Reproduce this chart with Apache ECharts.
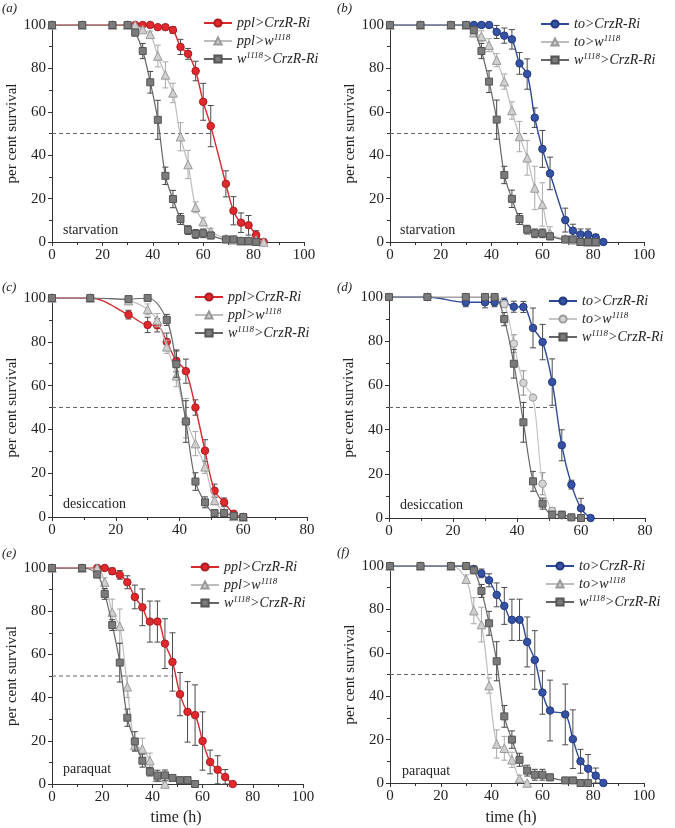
<!DOCTYPE html>
<html>
<head>
<meta charset="utf-8">
<script src="https://cdn.jsdelivr.net/npm/echarts@6/dist/echarts.min.js"></script>
<style>
html,body{margin:0;padding:0;background:#fff;}
#chart{width:675px;height:828px;}
</style>
</head>
<body>
<div id="chart"></div>
<script>
// ---------- DATA: [time (h), per cent survival, error] ----------
const aPpl   = [[0,100,0],[12,100,0],[24,100,0],[30,100,0],[33,100,0],[36,100,0],[39,100,0.5],[42,99,1],[45,99,1],[48,97.7,1.5],[51,89.9,3.5],[54,86.7,2.5],[57,78.8,4.5],[60,64.6,8.5],[63,53.4,9.5],[69,26.8,6],[72,14.4,6.5],[75,8.9,4.5],[78,7.7,4.5],[81,3.2,2],[84,0,0]];
const aPplW  = [[0,100,0],[12,100,0],[24,100,0],[30,100,0],[33,100,0.5],[36,97.9,1],[39,95.7,1.5],[42,85.7,5],[45,77,6],[48,68.7,4.5],[51,48.5,6.5],[54,35.7,6.5],[57,16,2.5],[60,9.4,2],[63,4.8,1.5],[69,1.5,1],[72,1,0.5],[75,0.5,0.5],[78,0.5,0.5],[81,1,0.5],[84,0,0]];
const aW     = [[0,100,0],[12,100,0],[24,100,0],[30,100,0],[33,96.5,1.5],[36,88,3.5],[39,73.6,5],[42,56.3,9],[45,30.5,4],[48,19.8,4],[51,10.6,2.5],[54,5.5,2],[57,3.7,2],[60,4,2],[63,3,1.5],[69,1.2,1],[72,1.2,1],[75,0.5,0.5],[78,0.5,0.5],[81,0,0]];

const bTo    = [[0,100,0],[12,100,0],[24,100,0],[30,100,0],[33,100,0],[36,100,0],[39,100,0],[42,96.8,3],[45,95.1,3.5],[48,93.4,4.5],[51,82.3,5],[54,77.4,7],[57,57.3,4.5],[60,42.9,8.5],[63,31.6,7.5],[69,10.1,5.5],[72,5.2,3],[75,3.5,2.5],[78,3.5,2.5],[81,2.1,1.5],[84,0,0]];
const bToW   = [[0,100,0],[12,100,0],[24,100,0],[30,100,0],[33,96.5,2],[36,94.8,2.5],[39,90.7,3],[42,83.8,3],[45,73.9,3.5],[48,60.6,4],[51,48.6,7],[54,38.8,8],[57,24.9,10],[60,17.3,10],[63,4,3],[69,1.5,1],[72,1,1],[75,0.5,0.5],[78,0,0],[81,0,0]];
const bW     = [[0,100,0],[12,100,0],[24,100,0],[30,100,0],[33,97.6,1.5],[36,88,3.5],[39,73.9,5],[42,56.4,9],[45,30.9,4],[48,19.9,4],[51,10.6,2.5],[54,5.7,2],[57,4,2],[60,4,2],[63,2.6,1.5],[69,1.2,1],[72,1.2,1],[75,0,0],[78,0,0],[81,0,0]];

const cPpl   = [[0,100,0],[12,100,0],[24,92.4,2],[30,87.7,3.5],[33,87.5,3],[36,80,4],[39,71.3,5],[42,66.6,5.5],[45,50,3.5],[48,30.3,5],[51,12,3],[54,6.7,2],[57,1.5,1],[60,0,0]];
const cPplW  = [[0,100,0],[12,100,0],[24,98.8,1],[30,94.8,2.5],[33,89.9,3],[36,77.7,3],[39,64.5,5],[42,45.1,9],[45,33.5,5.5],[48,22.9,3],[51,7.6,2],[54,2.3,1],[57,0.3,0.5],[60,0,0]];
const cW     = [[0,100,0],[12,100,0],[24,99.5,0.5],[30,100,0],[36,90,2.5],[39,69.8,6],[42,43.6,9.5],[45,16.2,4],[48,6.7,2.5],[51,1.8,1.5],[54,1.8,1.5],[57,0.5,0.5],[60,0,0]];

const dTo    = [[0,100,0],[12,100,0],[24,97.6,2],[30,97.6,2.5],[33,97.6,2],[36,97.5,2],[39,95.6,2.5],[42,95.5,2.5],[45,86,9],[48,79.6,8],[51,61.5,10.5],[54,32.9,7],[57,15.1,2],[60,4.4,4.5],[63,0,0]];
const dToW   = [[0,100,0],[12,100,0],[24,100,0],[30,100,0],[33,100,0],[36,96.8,1.5],[39,78.9,4],[42,61.1,5.5],[45,54.5,0.5],[48,15.5,5],[51,3.2,1.5],[54,1.2,0.5],[57,0.3,0],[60,0,0]];
const dW     = [[0,100,0],[12,100,0],[24,100,0],[30,100,0],[33,100,0],[36,90,3],[39,69.8,6.5],[42,43.3,9],[45,16.6,4.5],[48,6.5,2.5],[51,1.5,1.5],[54,1.5,1.5],[57,0.3,0.3],[60,0,0]];

const ePpl   = [[0,100,0],[12,100,0],[18,100,0],[21,100,0.5],[24,98.5,1.5],[27,96.8,2],[30,93.4,3],[33,86.6,5.5],[36,81.8,8.5],[39,75.2,9.5],[42,75.2,9.5],[45,65,11.5],[48,56.5,13.5],[51,41.6,10],[54,33.4,14],[57,31.9,14],[60,19.9,13.5],[63,10.2,5.5],[66,6.6,6.5],[69,3.2,3.5],[72,0,0]];
const ePplW  = [[0,100,0],[12,100,0],[18,100,0],[21,93.5,2],[24,79.6,6],[27,73,8],[30,45,5],[33,18,2.5],[36,16.2,5],[39,10.8,3.5],[42,3.1,2],[45,0,0]];
const eW     = [[0,100,0],[12,100,0],[18,97,1.5],[21,88,2.5],[24,73.6,2.5],[27,56.2,9],[30,30.7,4],[33,19.7,4.5],[36,10.8,3],[39,5.7,2],[42,3.9,2.5],[45,4,2.5],[48,2.8,1],[51,1.8,0.5],[54,1.8,0.5],[57,0,0]];

const fTo    = [[0,100,0],[12,100,0],[24,100,0],[30,100,0],[33,98.6,1.5],[36,96.6,2],[39,93.4,3],[42,86.7,5.5],[45,81.6,8.5],[48,75.2,9.5],[51,75.2,9.5],[54,65,11.5],[57,56.7,13.5],[60,41.7,10],[63,33.4,14],[69,31.6,14],[72,20.2,13.5],[75,10,5.5],[78,6.6,6.5],[81,3.4,3.5],[84,0,0]];
const fToW   = [[0,100,0],[12,100,0],[24,100,0],[30,93.9,2],[33,79.4,6],[36,73,8],[39,44.9,3.5],[42,18,6.5],[45,16,5.5],[48,10.7,3.5],[51,2.1,1.5],[54,0,0]];
const fW     = [[0,100,0],[12,100,0],[24,100,0],[30,100,0],[33,98,1.5],[36,88.5,3],[39,73.6,5.5],[42,56.1,9],[45,30.7,5],[48,20,4],[51,10.7,3],[54,5.7,2.5],[57,3.8,2.5],[60,3.8,2.5],[63,2.6,1.5],[69,1.2,1],[72,1.2,1],[75,0,0],[78,0,0]];

// genotype names per panel (legend order)
const namesPpl = ['ppl>CrzR-Ri', 'ppl>w1118', 'w1118>CrzR-Ri'];
const namesTo  = ['to>CrzR-Ri', 'to>w1118', 'w1118>CrzR-Ri'];
const panelLabels = ['(a)', '(b)', '(c)', '(d)', '(e)', '(f)'];
const conditions  = ['starvation', 'starvation', 'desiccation', 'desiccation', 'paraquat', 'paraquat'];
const halfCross   = [63.5, 58.6, 44.8, 51.4, 48.3, 57.1]; // x end of the 50% dashed line
const xMaxes      = [100, 100, 80, 80, 100, 100];
const xTicks      = [0, 20, 40, 60, 80, 100];
const yTicks      = [0, 20, 40, 60, 80, 100];
const xTitle      = 'time (h)';
const yTitle      = 'per cent survival';

// ---------- STYLES ----------
const FONT = 'Liberation Serif';
const STY = {
  red:   {line:'#d6282d', fill:'#e0282d', border:'#a91d21', symbol:'circle',   size:7.5, err:'#4a4a4a', lw:1.4},
  blue:  {line:'#2e4997', fill:'#3652a4', border:'#23397e', symbol:'circle',   size:7.5, err:'#4a4a4a', lw:1.4},
  tri:   {line:'#bdbdbd', fill:'#cfcfcf', border:'#999999', symbol:'triangle', size:8.5, err:'#a8a8a8', lw:1.2},
  lcirc: {line:'#c6c6c6', fill:'#d5d5d5', border:'#9a9a9a', symbol:'circle',   size:7.5, err:'#8c8c8c', lw:1.2},
  sq:    {line:'#666666', fill:'#7b7b7b', border:'#555555', symbol:'rect',     size:7,   err:'#444444', lw:1.2}
};

const panels = [
  {key:'a', data:[aPpl,aPplW,aW], names:namesPpl, sty:['red','tri','sq'],
   grid:{left:52, top:25, width:252, height:217}, legend:{left:203, top:16}, cond:[63,223], lab:[2,2]},
  {key:'b', data:[bTo,bToW,bW], names:namesTo, sty:['blue','tri','sq'],
   grid:{left:390, top:25, width:254, height:217}, legend:{left:540, top:17}, cond:[400,223], lab:[337,2]},
  {key:'c', data:[cPpl,cPplW,cW], names:namesPpl, sty:['red','tri','sq'],
   grid:{left:52, top:298, width:255, height:219}, legend:{left:194, top:290}, cond:[63,497], lab:[2,281]},
  {key:'d', data:[dTo,dToW,dW], names:namesTo, sty:['blue','lcirc','sq'],
   grid:{left:389, top:297, width:256, height:221}, legend:{left:548, top:294}, cond:[400,498], lab:[337,281]},
  {key:'e', data:[ePpl,ePplW,eW], names:namesPpl, sty:['red','tri','sq'],
   grid:{left:52, top:568, width:251, height:216}, legend:{left:190, top:560}, cond:[63,762], lab:[2,547], xt:[176,810]},
  {key:'f', data:[fTo,fToW,fW], names:namesTo, sty:['blue','tri','sq'],
   grid:{left:390, top:566, width:254, height:217}, legend:{left:545, top:559}, cond:[402,764], lab:[337,546], xt:[511,810]}
];

function richName(n) {
  const label = n.split('@')[0];
  return '{i|' + label.replace('1118', '}{s|1118}{i|') + '}';
}

const grids = [], xAxes = [], yAxes = [], series = [], legends = [], graphics = [];

panels.forEach((p, i) => {
  grids.push(Object.assign({containLabel:false}, p.grid));
  const axCommon = {
    axisLine:{show:true, lineStyle:{color:'#333', width:1}},
    axisTick:{show:true, inside:false, length:4, lineStyle:{color:'#333'}},
    minorTick:{show:true, splitNumber:2, length:3, lineStyle:{color:'#333'}},
    splitLine:{show:false},
    axisLabel:{fontFamily:FONT, fontSize:15, color:'#222', margin:6}
  };
  xAxes.push(Object.assign({}, axCommon, {
    type:'value', gridIndex:i, min:xTicks[0], max:xMaxes[i], interval:20
  }));
  yAxes.push(Object.assign({}, axCommon, {
    type:'value', gridIndex:i, min:yTicks[0], max:yTicks[yTicks.length-1], interval:20,
    name:yTitle, nameLocation:'middle', nameGap:32,
    nameTextStyle:{fontFamily:FONT, fontSize:15, fontWeight:400, color:'#222'}
  }));

  // 50% dashed reference
  series.push({
    type:'line', xAxisIndex:i, yAxisIndex:i, silent:true, z:1,
    data:[[0,50],[halfCross[i],50]], symbol:'none',
    lineStyle:{color:'#666', width:1, type:[4,3]}
  });

  const legendNames = [];
  p.data.forEach((arr, k) => {
    const s = STY[p.sty[k]];
    const nm = p.names[k] + '@' + p.key;
    legendNames.push(nm);
    // error bars
    series.push({
      type:'custom', xAxisIndex:i, yAxisIndex:i, silent:true, z:2 + k*3,
      data: arr.filter(d => d[2] > 0).map(d => [d[0], Math.max(d[1]-d[2], 0), Math.min(d[1]+d[2], 100)]),
      encode:{x:0, y:[1,2]},
      renderItem:(params, api) => {
        const x = api.value(0);
        const pHi = api.coord([x, api.value(2)]);
        const pLo = api.coord([x, api.value(1)]);
        const w = 3;
        const st = {stroke:s.err, lineWidth:1};
        return {type:'group', children:[
          {type:'line', shape:{x1:pHi[0], y1:pHi[1], x2:pLo[0], y2:pLo[1]}, style:st},
          {type:'line', shape:{x1:pHi[0]-w, y1:pHi[1], x2:pHi[0]+w, y2:pHi[1]}, style:st},
          {type:'line', shape:{x1:pLo[0]-w, y1:pLo[1], x2:pLo[0]+w, y2:pLo[1]}, style:st}
        ]};
      }
    });
    // curve + markers
    series.push({
      type:'line', name:nm, xAxisIndex:i, yAxisIndex:i, z:3 + k*3,
      data: arr.map(d => [d[0], d[1]]),
      smooth:0.35,
      symbol:s.symbol, symbolSize:s.size, showSymbol:true,
      lineStyle:{color:s.line, width:s.lw},
      itemStyle:{color:s.fill, borderColor:s.border, borderWidth:1},
      emphasis:{disabled:true}
    });
  });

  legends.push({
    data:legendNames, orient:'vertical', left:p.legend.left, top:p.legend.top,
    padding:0, itemGap:3, itemWidth:28, itemHeight:9, selectedMode:false,
    formatter: richName,
    textStyle:{fontFamily:FONT, fontSize:14, fontStyle:'italic', color:'#222',
      rich:{
        i:{fontFamily:FONT, fontSize:14, fontStyle:'italic', color:'#222', lineHeight:16},
        s:{fontFamily:FONT, fontSize:9, fontStyle:'italic', color:'#222', verticalAlign:'top', lineHeight:16}
      }}
  });

  graphics.push({type:'text', left:p.cond[0], top:p.cond[1], z:100,
    style:{text:conditions[i], font:'14px "' + FONT + '"', fill:'#222'}});
  graphics.push({type:'text', left:p.lab[0], top:p.lab[1], z:100,
    style:{text:panelLabels[i], font:'italic 13px "' + FONT + '"', fill:'#222'}});
  if (p.xt) {
    graphics.push({type:'text', x:p.xt[0], y:p.xt[1], z:100,
      style:{text:xTitle, font:'16px "' + FONT + '"', fill:'#222', align:'center', verticalAlign:'top'}});
  }
});

const chart = echarts.init(document.getElementById('chart'), null, {renderer:'canvas'});
chart.setOption({
  backgroundColor:'#fff',
  animation:false,
  grid:grids, xAxis:xAxes, yAxis:yAxes,
  legend:legends, series:series, graphic:graphics
});
</script>
</body>
</html>
